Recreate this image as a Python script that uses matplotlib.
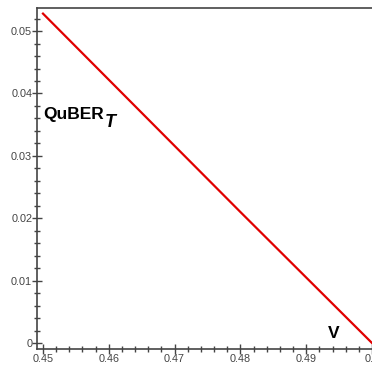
import matplotlib
matplotlib.use("Agg")
import matplotlib.pyplot as plt
from matplotlib.ticker import MultipleLocator, FuncFormatter

V = [0.45, 0.46, 0.47, 0.48, 0.49, 0.50]
quber = [0.0528, 0.0422, 0.0316, 0.0210, 0.0105, 0.0]
x_ticks = [0.45, 0.46, 0.47, 0.48, 0.49, 0.50]
y_ticks = [0.0, 0.01, 0.02, 0.03, 0.04, 0.05]

plt.rcParams['font.family'] = ['Liberation Sans', 'DejaVu Sans']

fig = plt.figure(figsize=(3.72, 3.65), dpi=100)
ax = fig.add_axes([37/372, 16/365, 1 - 37/372, (349 - 8)/365])

ax.plot(V, quber, color='#e00000', lw=1.6)

ax.set_xlim(0.44909, 0.50)
ax.set_ylim(-0.00096, 0.0537)
ax.set_xticks(x_ticks)
ax.set_yticks(y_ticks)
ax.xaxis.set_minor_locator(MultipleLocator(0.002))
ax.yaxis.set_minor_locator(MultipleLocator(0.002))
fmt = FuncFormatter(lambda v, p: f"{v:.2f}".rstrip('0').rstrip('.') if v != 0 else "0")
ax.xaxis.set_major_formatter(fmt)
ax.yaxis.set_major_formatter(fmt)

ax.tick_params(which='major', direction='inout', length=7, width=1, color='#444444',
               labelsize=7.8, labelcolor='#444444', pad=0)
ax.tick_params(which='minor', direction='inout', length=4, width=1, color='#444444')
for s in ['left', 'bottom', 'top']:
    ax.spines[s].set_color('#444444')
    ax.spines[s].set_linewidth(1.2)
ax.spines['right'].set_visible(False)

ax.text(0.4500, 0.0367, 'QuBER', fontsize=12.5, fontweight='bold',
        va='center', ha='left')
ax.text(0.4594, 0.0354, 'T', fontsize=13, fontweight='bold', style='italic',
        va='center', ha='left')
ax.text(0.4942, 0.0004, 'V', fontsize=12.5, fontweight='bold', va='bottom', ha='center')

fig.savefig('out.png', dpi=100)
